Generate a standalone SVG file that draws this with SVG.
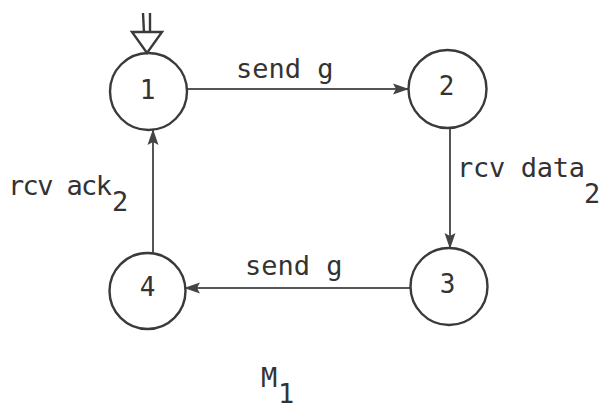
<svg xmlns="http://www.w3.org/2000/svg" width="603" height="408" viewBox="0 0 603 408">
<style>
.st{fill:none;stroke:#3a3a3a;stroke-width:2.4}
.ed{fill:none;stroke:#555;stroke-width:2}
text{font-family:"DejaVu Sans Mono","Liberation Mono",monospace;font-size:27px;fill:#333}
.n{text-anchor:middle;font-size:26px}
</style>
<defs>
<marker id="ah" markerUnits="userSpaceOnUse" markerWidth="16" markerHeight="12" refX="15" refY="6" orient="auto">
<path d="M0,0.5 L16,6 L0,11.5 L3,6 z" fill="#444"/>
</marker>
</defs>
<rect width="603" height="408" fill="#fff"/>
<g id="connectors">
<line class="ed" x1="187" y1="89" x2="408" y2="89" marker-end="url(#ah)"/>
<line class="ed" x1="450" y1="128" x2="450" y2="248" marker-end="url(#ah)"/>
<line class="ed" x1="410" y1="288" x2="185" y2="288" marker-end="url(#ah)"/>
<line class="ed" x1="153" y1="253" x2="153" y2="130" marker-end="url(#ah)"/>
<text x="236" y="78">send g</text>
<text x="457" y="177" textLength="128" lengthAdjust="spacing">rcv data</text>
<text x="584" y="203">2</text>
<text x="245" y="275">send g</text>
<text x="8" y="195" textLength="104" lengthAdjust="spacing">rcv ack</text>
<text x="112" y="211">2</text>
</g>
<g id="initial">
<line class="st" x1="143" y1="13" x2="144" y2="33"/>
<line class="st" x1="150" y1="13" x2="150" y2="33"/>
<polygon class="st" points="132,32 162,32 147,53" fill="#fff"/>
</g>
<g id="node1">
<circle class="st" cx="148.5" cy="91.5" r="38.5"/>
<text class="n" x="147.5" y="99">1</text>
</g>
<g id="node2">
<circle class="st" cx="447.5" cy="89" r="39"/>
<text class="n" x="446.5" y="95">2</text>
</g>
<g id="node3">
<circle class="st" cx="449" cy="286.5" r="38.5"/>
<text class="n" x="447.5" y="293">3</text>
</g>
<g id="node4">
<circle class="st" cx="147.5" cy="291" r="38"/>
<text class="n" x="147.5" y="296">4</text>
</g>
<g id="title">
<text x="261" y="387">M</text>
<text x="278" y="403">1</text>
</g>
</svg>
